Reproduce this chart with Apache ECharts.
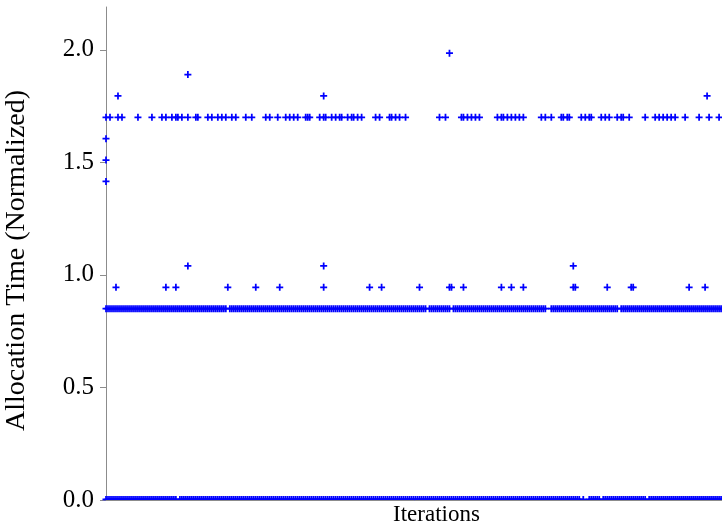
<!DOCTYPE html>
<html>
<head>
<meta charset="utf-8">
<script src="https://cdn.jsdelivr.net/npm/echarts@6/dist/echarts.min.js"></script>
<style>html,body{margin:0;padding:0;background:#fff}#c{width:722px;height:528px}</style>
</head>
<body>
<div id="c"></div>
<script>
// ---- data (x = iteration index, y = normalized allocation time) ----
const yTicks = [0, 0.5, 1.0, 1.5, 2.0];
const iterationMax = 331;

// rows that are (almost) continuous: runs of consecutive iterations [first, last]
const zeroRowValue = 0;
const zeroRowRuns = [[0, 35], [37, 237], [239, 239], [242, 247], [249, 270], [272, 331]];
const baseRowValue = 0.85;
const baseRowRuns = [[0, 60], [62, 160], [162, 172], [174, 220], [223, 256], [258, 331]];

// sparse rows: iterations where a point appears
const row0945 = [5, 30, 35, 61, 75, 87, 109, 132, 138, 157, 172, 173, 179, 198, 203, 209, 234, 235, 251, 263, 264, 292, 300];
const row104 = [41, 109, 234];
const row1415 = [0];
const row151 = [0];
const row1605 = [0];
const row170 = [0, 2, 6, 8, 16, 23, 28, 30, 33, 35, 36, 38, 41, 45, 46, 51, 53, 56, 58, 60, 63, 65, 70, 73,
  80, 82, 86, 90, 92, 94, 96, 100, 101, 102, 107, 109, 110, 113, 115, 117, 118, 121, 123, 124, 126, 128,
  135, 137, 142, 143, 145, 147, 150, 167, 170, 178, 179, 181, 183, 185, 187, 196, 198, 199, 201, 203, 205,
  207, 209, 218, 220, 223, 228, 229, 231, 232, 238, 240, 242, 243, 248, 250, 252, 256, 258, 259, 262, 270,
  275, 277, 279, 281, 283, 285, 290, 297, 302, 307];
const row1795 = [6, 109, 301];
const row189 = [41];
const row1985 = [172];

// ---- build series data ----
function fromRuns(runs, v) {
  const out = [];
  runs.forEach(([a, b]) => { for (let i = a; i <= b; i++) out.push([i, v]); });
  return out;
}
function fromList(list, v) { return list.map(i => [i, v]); }

const mainData = [].concat(
  fromRuns(baseRowRuns, baseRowValue),
  fromList(row0945, 0.945),
  fromList(row104, 1.04),
  fromList(row1415, 1.415),
  fromList(row151, 1.51),
  fromList(row1605, 1.605),
  fromList(row170, 1.70),
  fromList(row1795, 1.795),
  fromList(row189, 1.89),
  fromList(row1985, 1.985)
);
const zeroData = fromRuns(zeroRowRuns, zeroRowValue);

const FONT = 'Liberation Serif';
const plusPath = 'path://M3,0h2v3h3v2h-3v3h-2v-3h-3v-2h3z';
const halfPlusPath = 'path://M3,0h2v3h3v2h-8v-2h3z';

const chart = echarts.init(document.getElementById('c'), null, {renderer: 'canvas'});
chart.setOption({
  animation: false,
  backgroundColor: '#ffffff',
  grid: {left: 106, top: 7, right: -45, bottom: 28, containLabel: false, outerBoundsMode: 'none'},
  xAxis: {
    type: 'value', min: 0, max: iterationMax,
    name: 'Iterations', nameLocation: 'middle', nameGap: 3,
    nameTextStyle: {fontFamily: FONT, fontSize: 23, color: '#000', verticalAlign: 'top'},
    axisLine: {show: true, lineStyle: {color: '#8c8c8c', width: 1}},
    axisTick: {show: false}, axisLabel: {show: false}, splitLine: {show: false},
    z: 5
  },
  yAxis: {
    type: 'value', min: 0, max: 2.19,
    name: 'Allocation Time (Normalized)', nameLocation: 'middle', nameGap: 75, nameRotate: 90,
    nameTextStyle: {fontFamily: FONT, fontSize: 28, color: '#000', padding: [0, 14, 0, 0]},
    axisLine: {show: true, lineStyle: {color: '#8c8c8c', width: 1}},
    axisTick: {show: true, length: 6, lineStyle: {color: '#8c8c8c'}, customValues: yTicks},
    axisLabel: {fontFamily: FONT, fontSize: 25, color: '#000', margin: 12, customValues: yTicks,
      formatter: v => v.toFixed(1)},
    splitLine: {show: false}
  },
  series: [
    {
      type: 'scatter', data: zeroData, symbol: halfPlusPath, symbolSize: [7, 4.4], symbolOffset: [0, -1.9],
      itemStyle: {color: '#0000ff', opacity: 1}, clip: false, z: 2
    },
    {
      type: 'scatter', data: mainData, symbol: plusPath, symbolSize: 7,
      itemStyle: {color: '#0000ff', opacity: 1}, clip: false, z: 2
    }
  ]
});
</script>
</body>
</html>
